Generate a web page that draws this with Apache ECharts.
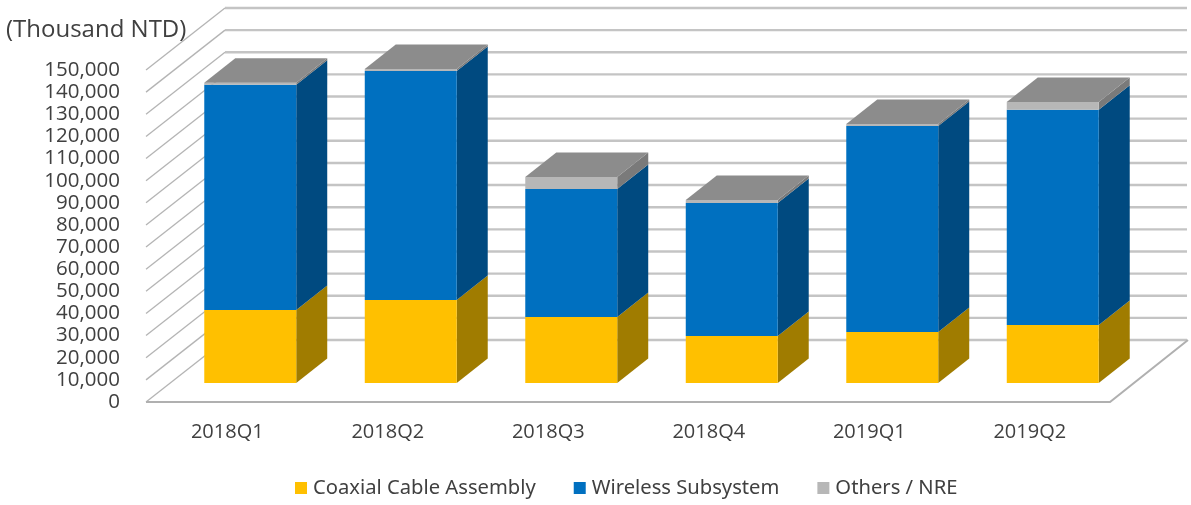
<!DOCTYPE html>
<html>
<head>
<meta charset="utf-8">
<style>html,body{margin:0;padding:0;background:#fff}#c{width:1191px;height:505px}</style>
<script src="https://cdn.jsdelivr.net/npm/echarts@6/dist/echarts.min.js"></script>
</head>
<body>
<div id="c"></div>
<script>
var categories = ['2018Q1','2018Q2','2018Q3','2018Q4','2019Q1','2019Q2'];
var coaxial = [33000, 37500, 29800, 21200, 23000, 26200];
var wireless = [101700, 103500, 57900, 60100, 93100, 97200];
var others = [900, 900, 5400, 1400, 900, 3600];
var yTicks = [0,10000,20000,30000,40000,50000,60000,70000,80000,90000,100000,110000,120000,130000,140000,150000];

var FONT = '"Open Sans", "Noto Sans", sans-serif';
var WALL = [78, -62];      // floor depth
var BAR_NEAR = [23, -19];  // bar front face offset
var BAR_DEPTH = [31, -24.5];
var BAR_RATIO = 0.573;

var chart = echarts.init(document.getElementById('c'), null, {renderer:'canvas'});

function gridItem(params, api) {
  var v = api.value(0), cs = params.coordSys, y = api.coord([0, v])[1];
  var x0 = cs.x - 1, x1 = cs.x + WALL[0], y1 = y + WALL[1], x2 = cs.x + cs.width + WALL[0] - 1;
  return {type:'group', silent:true, children:[
    {type:'line', shape:{x1:x1,y1:y1,x2:x2,y2:y1}, style:{stroke:'#c4c4c4',lineWidth:2.4}},
    {type:'line', shape:{x1:x0,y1:y,x2:x1,y2:y1}, style:{stroke:'#b4b4b4',lineWidth:1.3}}
  ]};
}
function floorItem(params, api) {
  var cs = params.coordSys, y = api.coord([0, 0])[1], xr = cs.x + cs.width;
  return {type:'polyline', silent:true, shape:{points:[[cs.x-1,y],[xr,y],[xr+WALL[0],y+WALL[1]]]},
    style:{stroke:'#b0b0b0',lineWidth:2,fill:null}};
}
function barRender(front, side, top) {
  return function(params, api) {
    var i = api.value(0);
    var a = api.coord([i, api.value(1)]), b = api.coord([i, api.value(2)]);
    var w = api.size([1,0])[0] * BAR_RATIO;
    var xl = a[0] + BAR_NEAR[0] - w/2, xr = xl + w;
    var yb = a[1] + BAR_NEAR[1], yt = b[1] + BAR_NEAR[1];
    var dx = BAR_DEPTH[0], dy = BAR_DEPTH[1];
    var kids = [
      {type:'polygon', shape:{points:[[xr,yb],[xr+dx,yb+dy],[xr+dx,yt+dy],[xr,yt]]}, style:{fill:side}},
      {type:'rect', shape:{x:xl,y:yt,width:w,height:yb-yt}, style:{fill:front}}
    ];
    if (top) kids.push({type:'polygon', shape:{points:[[xl,yt],[xl+dx,yt+dy],[xr+dx,yt+dy],[xr,yt]]}, style:{fill:top}});
    return {type:'group', children:kids};
  };
}
function ranges(base, vals) {
  return vals.map(function(v,i){ return [i, base[i], base[i]+v]; });
}
var zeros = categories.map(function(){return 0;});
var s1 = coaxial.map(function(v){return v;});
var s2 = coaxial.map(function(v,i){return v+wireless[i];});

chart.setOption({
  animation:false,
  backgroundColor:'#fff',
  title:{text:'(Thousand NTD)', left:1, top:13, textStyle:{fontFamily:FONT,fontSize:24,fontWeight:'normal',color:'#404040'}},
  grid:{left:147, right:81, top:70, bottom:103},
  legend:{
    data:['Coaxial Cable Assembly','Wireless Subsystem','Others / NRE'],
    left:290, top:473, itemWidth:12, itemHeight:12, itemGap:38, icon:'rect',
    textStyle:{fontFamily:'"Noto Sans", sans-serif',fontSize:20.2,color:'#404040',padding:[0,0,0,1]}
  },
  xAxis:{type:'category',data:categories,axisLine:{show:false},axisTick:{show:false},
    axisLabel:{fontFamily:FONT,fontSize:20,color:'#404040',margin:20}},
  yAxis:{type:'value',min:0,max:150000,interval:10000,axisLine:{show:false},axisTick:{show:false},splitLine:{show:false},
    axisLabel:{fontFamily:FONT,fontSize:20.5,color:'#404040',margin:27,padding:[0,0,2,0],
      formatter:function(v){return v.toLocaleString('en-US');}}},
  series:[
    {type:'custom',name:'grid',silent:true,z:1,clip:false,data:yTicks.map(function(v){return [v];}),encode:{y:0},renderItem:gridItem},
    {type:'custom',name:'floor',silent:true,z:1,clip:false,data:[[0]],encode:{y:0},renderItem:floorItem},
    {type:'custom',name:'Coaxial Cable Assembly',z:2,clip:false,itemStyle:{color:'#ffc000'},
      data:ranges(zeros,coaxial),encode:{x:0,y:[1,2]},renderItem:barRender('#ffc000','#a07c00',null)},
    {type:'custom',name:'Wireless Subsystem',z:3,clip:false,itemStyle:{color:'#0070c0'},
      data:ranges(s1,wireless),encode:{x:0,y:[1,2]},renderItem:barRender('#0070c0','#004a80',null)},
    {type:'custom',name:'Others / NRE',z:4,clip:false,itemStyle:{color:'#b7b7b7'},
      data:ranges(s2,others),encode:{x:0,y:[1,2]},renderItem:barRender('#b7b7b7','#7a7a7a','#8c8c8c')}
  ]
});
</script>
</body>
</html>
